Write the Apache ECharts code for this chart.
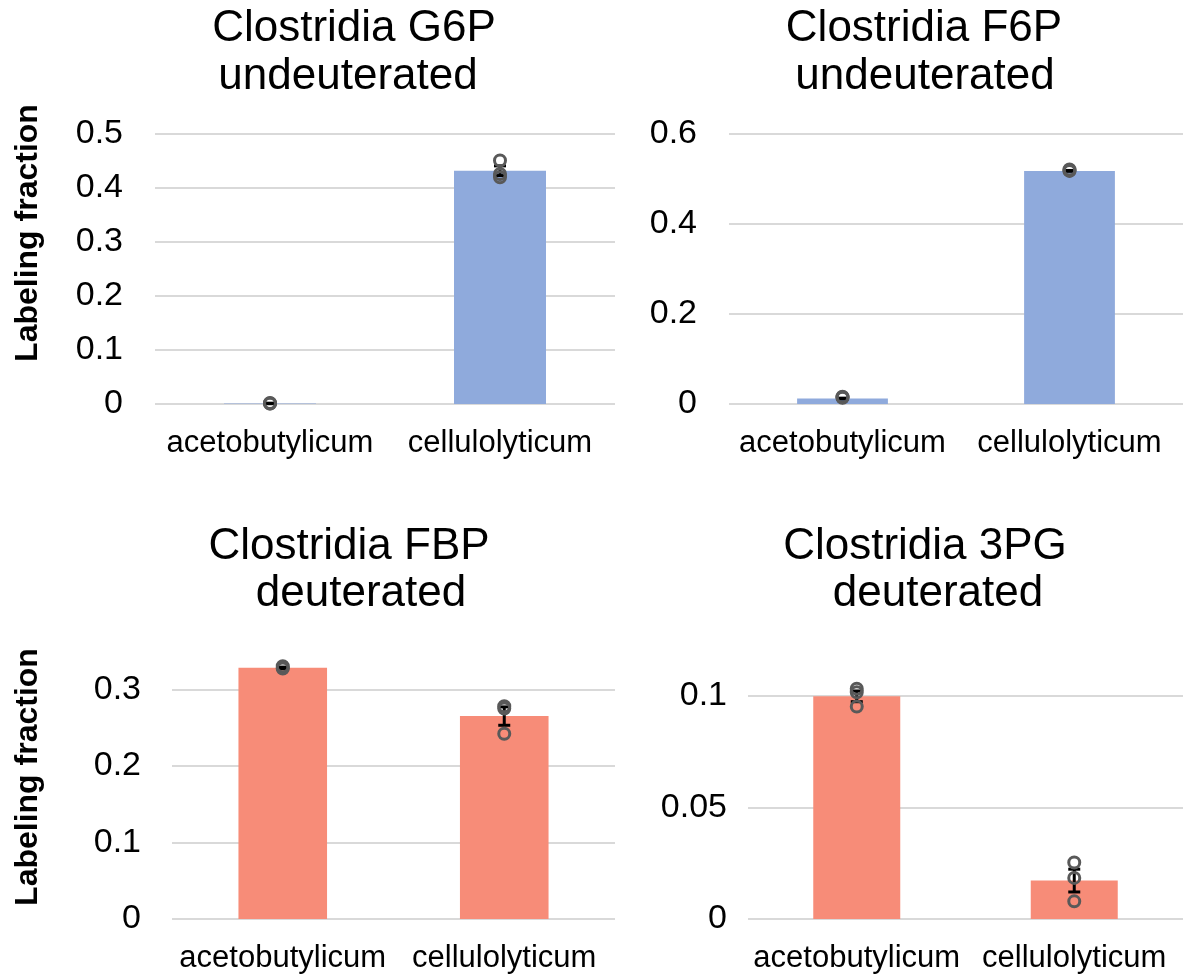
<!DOCTYPE html>
<html><head><meta charset="utf-8">
<script src="https://cdn.jsdelivr.net/npm/echarts@6/dist/echarts.min.js"></script>
<style>html,body{margin:0;padding:0;background:#fff}#c{width:1183px;height:975px}</style>
</head><body><div id="c"></div>
<script>
const categories = ['acetobutylicum', 'cellulolyticum'];

const g6pTitle = ['Clostridia G6P', 'undeuterated'];
const g6pMean = [0.001, 0.432];
const g6pErr = [0.0005, 0.009];
const g6pPoints = [[0.002, 0.001, 0.001], [0.451, 0.426, 0.420]];

const f6pTitle = ['Clostridia F6P', 'undeuterated'];
const f6pMean = [0.012, 0.518];
const f6pErr = [0.001, 0.001];
const f6pPoints = [[0.016, 0.015, 0.014], [0.521, 0.519, 0.518]];

const fbpTitle = ['Clostridia FBP', 'deuterated'];
const fbpMean = [0.328, 0.265];
const fbpErr = [0.001, 0.012];
const fbpPoints = [[0.330, 0.328, 0.327], [0.278, 0.275, 0.242]];

const pgTitle = ['Clostridia 3PG', 'deuterated'];
const pgMean = [0.0997, 0.0172];
const pgErr = [0.0024, 0.0051];
const pgPoints = [[0.1031, 0.1015, 0.0951], [0.0253, 0.0184, 0.0079]];

const yMax = [0.5, 0.6, 0.35, 0.12];
const yInterval = [0.1, 0.2, 0.1, 0.05];
const yAxisTitle = 'Labeling fraction';

const BLUE = '#8FAADC', SALMON = '#F78C78';
const FONT = '"Liberation Sans", Arial, sans-serif';

const panels = [
  {title: g6pTitle, mean: g6pMean, err: g6pErr, pts: g6pPoints, color: BLUE,
   grid: {left: 155, top: 134, width: 460, height: 270}, tx: [354, 348], ty: [29, 77], yt: 233, lm: 32},
  {title: f6pTitle, mean: f6pMean, err: f6pErr, pts: f6pPoints, color: BLUE,
   grid: {left: 729, top: 134, width: 461, height: 270}, tx: [924, 925], ty: [29, 77], yt: null, lm: 32},
  {title: fbpTitle, mean: fbpMean, err: fbpErr, pts: fbpPoints, color: SALMON,
   grid: {left: 172, top: 651, width: 443, height: 268}, tx: [349, 361], ty: [547, 594], yt: 777, lm: 31},
  {title: pgTitle, mean: pgMean, err: pgErr, pts: pgPoints, color: SALMON,
   grid: {left: 748, top: 651, width: 443, height: 268}, tx: [925, 938], ty: [547, 594], yt: null, lm: 21}
];

function isMultiple(a, b) { return Math.abs(a / b - Math.round(a / b)) < 1e-9; }

const grids = [], xAxes = [], yAxes = [], series = [], graphics = [];
panels.forEach((p, i) => {
  grids.push(Object.assign({containLabel: false}, p.grid));
  xAxes.push({
    type: 'category', gridIndex: i, data: categories,
    axisLine: {show: false}, axisTick: {show: false},
    axisLabel: {color: '#000', fontSize: 31, fontFamily: FONT, margin: 24, interval: 0}
  });
  const mult = isMultiple(yMax[i], yInterval[i]);
  yAxes.push({
    type: 'value', gridIndex: i, min: 0, max: yMax[i], interval: yInterval[i],
    axisLine: {show: false}, axisTick: {show: false},
    axisLabel: {color: '#000', fontSize: 34, fontFamily: FONT, margin: p.lm, showMaxLabel: mult},
    splitLine: {show: true, showMaxLine: mult, lineStyle: {color: '#D9D9D9', width: 2}}
  });
  series.push({
    type: 'bar', xAxisIndex: i, yAxisIndex: i, data: p.mean,
    barWidth: '40%', itemStyle: {color: p.color}, z: 2, silent: true
  });
  series.push({
    type: 'custom', xAxisIndex: i, yAxisIndex: i, z: 3, silent: true,
    data: p.mean.map((m, k) => [k, m - p.err[k], m + p.err[k]]),
    renderItem: function (params, api) {
      const x = api.value(0);
      const lo = api.coord([x, api.value(1)]);
      const hi = api.coord([x, api.value(2)]);
      const w = 6;
      const st = {stroke: '#000', lineWidth: 3};
      return {type: 'group', children: [
        {type: 'line', shape: {x1: lo[0], y1: lo[1], x2: hi[0], y2: hi[1]}, style: st},
        {type: 'line', shape: {x1: lo[0] - w, y1: lo[1], x2: lo[0] + w, y2: lo[1]}, style: st},
        {type: 'line', shape: {x1: hi[0] - w, y1: hi[1], x2: hi[0] + w, y2: hi[1]}, style: st}
      ]};
    }
  });
  const sd = [];
  p.pts.forEach((arr, k) => arr.forEach(v => sd.push([k, v])));
  series.push({
    type: 'scatter', xAxisIndex: i, yAxisIndex: i, data: sd, z: 4, silent: true,
    symbol: 'circle', symbolSize: 11,
    itemStyle: {color: 'rgba(255,255,255,0)', borderColor: '#595959', borderWidth: 3, opacity: 1}
  });
  p.title.forEach((t, j) => {
    graphics.push({type: 'text', x: p.tx[j], y: p.ty[j],
      style: {text: t, fill: '#000', font: '44px ' + FONT, textAlign: 'center', textVerticalAlign: 'middle'}});
  });
  if (p.yt !== null) {
    graphics.push({type: 'text', x: 28, y: p.yt, rotation: Math.PI / 2,
      style: {text: yAxisTitle, fill: '#000', font: 'bold 32px ' + FONT, textAlign: 'center', textVerticalAlign: 'middle'}});
  }
});

const chart = echarts.init(document.getElementById('c'), null, {renderer: 'canvas'});
chart.setOption({
  animation: false,
  backgroundColor: '#fff',
  grid: grids, xAxis: xAxes, yAxis: yAxes, series: series, graphic: graphics
});
</script></body></html>
